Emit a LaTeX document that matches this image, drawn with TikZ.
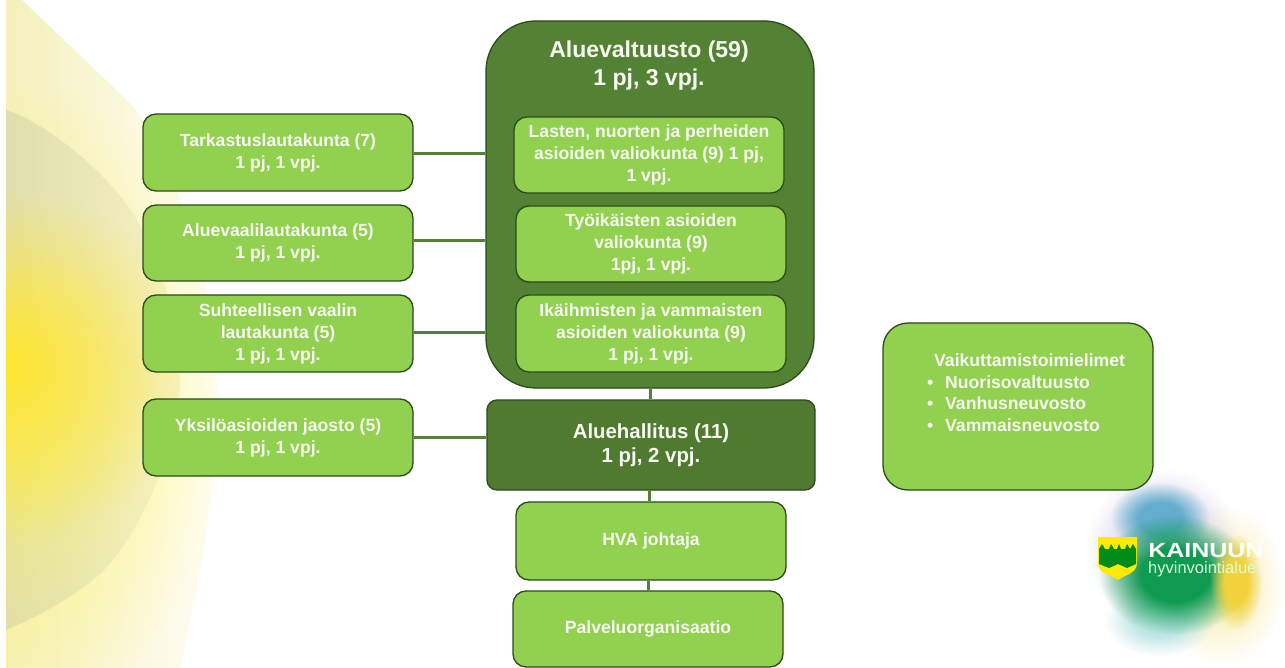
\documentclass[tikz,border=0pt]{standalone}
\usepackage{fontspec}
\setmainfont{Liberation Sans}
\usetikzlibrary{fadings,shadings}
\pgfdeclareradialshading{softs}{\pgfpointorigin}{color(0bp)=(transparent!0);color(11bp)=(transparent!0);color(25bp)=(transparent!100);color(50bp)=(transparent!100)}
\pgfdeclarefading{softc}{\pgfuseshading{softs}}
\pgfdeclareradialshading{softw}{\pgfpointorigin}{color(0bp)=(transparent!0);color(25bp)=(transparent!100);color(50bp)=(transparent!100)}
\pgfdeclarefading{softl}{\pgfuseshading{softw}}
\definecolor{lg}{HTML}{92D050}
\definecolor{dg}{HTML}{548235}
\definecolor{hg}{HTML}{4F7A30}
\definecolor{bd}{HTML}{2C4A1C}
\definecolor{tw}{HTML}{F8FBF2}
\definecolor{sa}{HTML}{F5F0BC}
\definecolor{sb}{HTML}{FFFEF6}
\definecolor{oa}{HTML}{E0DEAC}
\definecolor{ob}{HTML}{F7F3C4}
\definecolor{sy}{HTML}{FFE632}
\definecolor{lgreen}{HTML}{0E9A50}
\definecolor{lyel}{HTML}{F2D23C}
\definecolor{lvio}{HTML}{DCD8EC}
\definecolor{lblu}{HTML}{4FA6C8}
\definecolor{ltea}{HTML}{BFE6E6}
\definecolor{lpal}{HTML}{FBF3C8}
\tikzset{
 box/.style={draw=bd,line width=1.3pt,fill=lg,rounded corners=13pt,inner sep=0pt,minimum width=270pt,minimum height=77pt,align=center,text=tw,font=\bfseries\fontsize{17.6}{22}\selectfont},
 bigbox/.style={box,fill=dg,rounded corners=50pt,minimum width=328pt,minimum height=367pt},
 mgmt/.style={box,fill=hg,rounded corners=10pt,minimum width=328pt,minimum height=90pt,font=\bfseries\fontsize{20.4}{24}\selectfont},
 link/.style={draw=dg,line width=3pt},
 lab/.style={inner sep=0pt,align=center,text=tw},
 blob/.style={path fading=softc,draw=none},
 glow/.style={path fading=softl,draw=none},
}
\begin{document}
\begin{tikzpicture}[x=1pt,y=-1pt]
\useasboundingbox (0,0) rectangle (1285,668);
\fill[white] (0,0) rectangle (1285,668);
% sun background
\begin{scope}
 \clip (6,0) -- (22,0) -- (133,106) .. controls (175,170) and (205,250) .. (215,350) .. controls (222,450) and (205,560) .. (180,668) -- (6,668) -- cycle;
 \shade[left color=sa,right color=sb] (6,0) rectangle (220,668);
 \fill[glow,yellow!70!white,opacity=.7] (6,400) ellipse (230 and 320);
\end{scope}
\begin{scope}
 \clip (6,110) .. controls (40,120) and (100,165) .. (133,213) .. controls (160,260) and (182,330) .. (180,383) .. controls (178,440) and (145,530) .. (100,574) .. controls (70,600) and (35,618) .. (6,630) -- cycle;
 \shade[left color=oa,right color=ob] (6,110) rectangle (182,630);
 \fill[glow,yellow!70!white,opacity=.55] (6,440) ellipse (160 and 200);
 \fill[glow,sy] (6,365) ellipse (190 and 175);
\end{scope}
% logo
\fill[blob,lpal] (1222,585) ellipse (64 and 80);
\fill[blob,lvio] (1163,548) ellipse (76 and 80);
\fill[blob,lblu,opacity=.85] (1160,518) ellipse (50 and 36);
\fill[blob,ltea] (1160,620) ellipse (55 and 36);
\fill[blob,lgreen] (1175,575) ellipse (76 and 60);
\fill[blob,lyel] (1236,582) ellipse (26 and 48);
% shield
\fill[yellow!92!orange] (1098,537) -- (1137,537) -- (1137,563) .. controls (1137,574) and (1124,575) .. (1118,580) .. controls (1112,575) and (1098,574) .. (1098,563) -- cycle;
\fill[green!50!black!90!cyan] (1099,549) -- (1102,544) -- (1105,549) -- (1109,549) -- (1111,544) -- (1114,549) -- (1117,549) -- (1119,544) -- (1121,549) -- (1125,549) -- (1127,544) -- (1130,549) -- (1133,544) -- (1136,549) -- (1136,564) -- (1127,568) -- (1118,564) -- (1109,568) -- (1099,564) -- cycle;
\node[inner sep=0pt,anchor=base west,text=white,font=\bfseries\fontsize{20.5}{21}\selectfont,xscale=1.22] (logoa) at (1148,557.5) {KAINUUN};
\node[inner sep=0pt,anchor=base west,text=white!85!green,font=\fontsize{16.5}{17}\selectfont] (logob) at (1148,573) {hyvinvointialue};
% boxes
\node[bigbox] (av) at (650,204.5) {};
\node[lab,font=\bfseries\fontsize{23}{28}\selectfont] (avt) at (649,65.5) {Aluevaltuusto (59)\\1 pj, 3 vpj.};
\node[box] (t) at (278,152.5) {Tarkastuslautakunta (7)\\1 pj, 1 vpj.};
\node[box,minimum height=76pt] (a) at (278,243) {Aluevaalilautakunta (5)\\1 pj, 1 vpj.};
\node[box] (s) at (278,333.5) {Suhteellisen vaalin\\lautakunta (5)\\1 pj, 1 vpj.};
\node[box] (y) at (278,437.5) {Yksilöasioiden jaosto (5)\\1 pj, 1 vpj.};
\node[box,minimum height=76pt] (l) at (649,155) {Lasten, nuorten ja perheiden\\asioiden valiokunta (9) 1 pj,\\1 vpj.};
\node[box,minimum height=76pt] (o) at (651,244) {Työikäisten asioiden\\valiokunta (9)\\1pj, 1 vpj.};
\node[box] (i) at (651,333.5) {Ikäihmisten ja vammaisten\\asioiden valiokunta (9)\\1 pj, 1 vpj.};
\node[mgmt] (h) at (651,445) {Aluehallitus (11)\\1 pj, 2 vpj.};
\node[box,minimum height=78pt] (j) at (651,541) {HVA johtaja};
\node[box,minimum height=76pt] (p) at (648,629) {Palveluorganisaatio};
\node[box,rounded corners=25pt,minimum height=167pt] (v) at (1018,406.5) {};
\node[lab,align=left,anchor=north west,font=\bfseries\fontsize{17.6}{21.6}\selectfont] (vt) at (927,353.5) {\hspace{7pt}Vaikuttamistoimielimet\\\makebox[18pt][l]{•}Nuorisovaltuusto\\\makebox[18pt][l]{•}Vanhusneuvosto\\\makebox[18pt][l]{•}Vammaisneuvosto};
% connectors
\draw[link] ([yshift=-1.5pt]t.east) -- ([yshift=-1.5pt]t.east -| av.west);
\draw[link] ([yshift=2pt]a.east) -- ([yshift=2pt]a.east -| av.west);
\draw[link] ([yshift=1.5pt]s.east) -- ([yshift=1.5pt]s.east -| av.west);
\draw[link] (y.east) -- (y.east -| h.west);
\draw[link] (av.south) -- (av.south |- h.north);
\draw[link] ([xshift=-2pt]h.south) -- ([xshift=-2pt]h.south |- j.north);
\draw[link] (p.north) -- (p.north |- j.south);
\end{tikzpicture}
\end{document}
